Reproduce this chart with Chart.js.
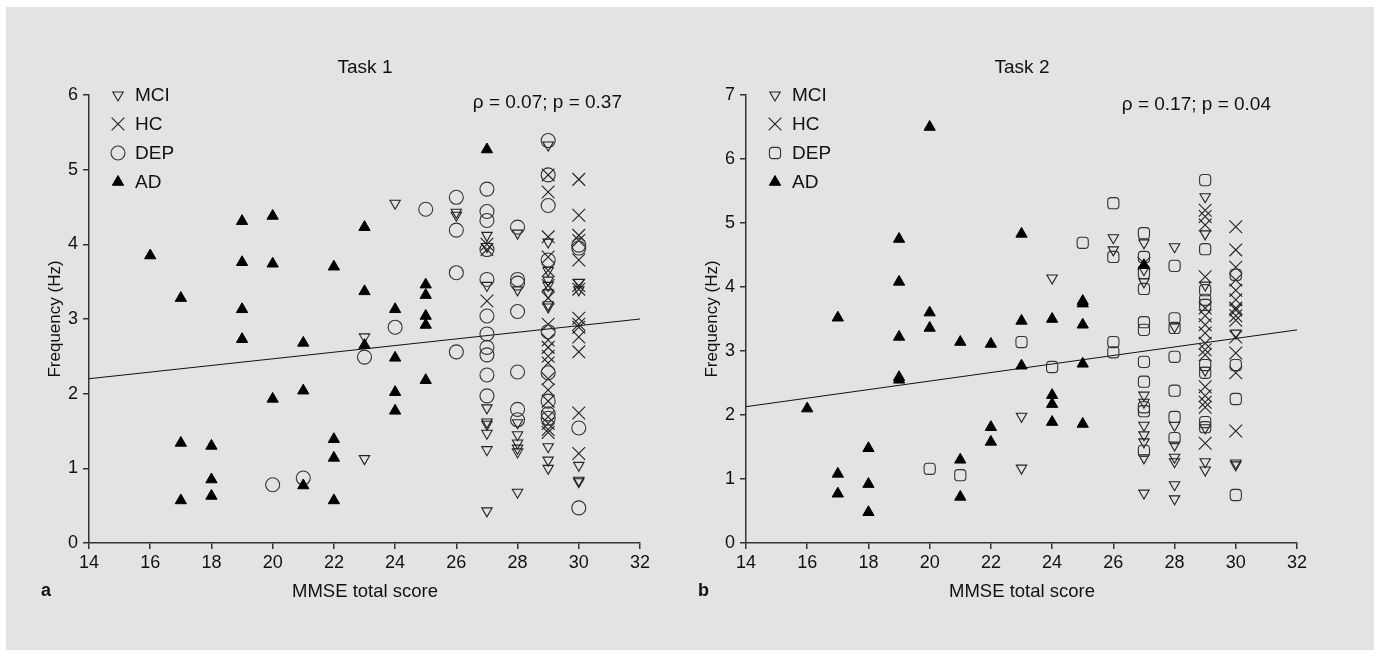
<!DOCTYPE html>
<html>
<head>
<meta charset="utf-8">
<script src="https://cdn.jsdelivr.net/npm/chart.js@4.4.1/dist/chart.umd.min.js"></script>
<style>
  body { margin: 0; background: #fff; }
  #bg { position: absolute; left: 6px; top: 7px; width: 1368px; height: 643px; background: #e3e3e3; }
  canvas { position: absolute; top: 0; }
  #panelA { left: 0; }
  #panelB { left: 657px; }
</style>
</head>
<body>
<div id="bg"></div>
<canvas id="panelA" width="687" height="650"></canvas>
<canvas id="panelB" width="687" height="650"></canvas>
<script>
// Task 1 ([MMSE score, frequency Hz])
const t1MCI = [[23,2.76],[23,1.13],[24,4.55],[26,4.43],[26,4.39],[27,4.12],[27,3.97],[27,3.45],[27,1.81],[27,1.62],[27,1.59],[27,1.47],[27,1.25],[27,0.43],
  [28,4.15],[28,3.39],[28,1.61],[28,1.45],[28,1.34],[28,1.27],[28,1.22],[28,0.68],
  [29,5.33],[29,4.03],[29,3.65],[29,3.52],[29,3.45],[29,3.35],[29,3.19],[29,3.16],[29,1.29],[29,1.11],[29,1.00],
  [30,3.49],[30,3.39],[30,1.04],[30,0.84],[30,0.82]];
const t1HC = [[27,4.00],[27,3.93],[27,3.24],
  [29,4.93],[29,4.70],[29,4.10],[29,3.83],[29,3.65],[29,3.45],[29,3.28],[29,2.93],[29,2.72],[29,2.62],[29,2.50],[29,2.41],[29,2.20],[29,2.05],[29,1.90],[29,1.69],[29,1.60],[29,1.52],[29,1.48],
  [30,4.87],[30,4.39],[30,4.12],[30,4.05],[30,3.79],[30,3.45],[30,3.40],[30,3.01],[30,2.93],[30,2.89],[30,2.76],[30,2.56],[30,1.74],[30,1.20]];
const t1DEP = [[20,0.78],[21,0.87],[23,2.49],[24,2.89],[25,4.47],[26,4.63],[26,4.19],[26,3.62],[26,2.56],
  [27,4.74],[27,4.44],[27,4.32],[27,3.93],[27,3.53],[27,3.04],[27,2.80],[27,2.62],[27,2.52],[27,2.25],[27,1.97],
  [28,4.23],[28,3.53],[28,3.48],[28,3.10],[28,2.29],[28,1.79],[28,1.65],
  [29,5.39],[29,4.93],[29,4.52],[29,3.79],[29,2.83],[29,2.28],[29,1.90],[29,1.73],[29,1.67],
  [30,3.99],[30,3.95],[30,1.54],[30,0.47]];
const t1AD = [[16,3.85],[17,3.28],[17,1.34],[17,0.57],[18,1.30],[18,0.85],[18,0.63],[19,4.31],[19,3.76],[19,3.13],[19,2.73],
  [20,4.38],[20,3.74],[20,1.93],[21,2.68],[21,2.04],[21,0.77],[22,3.70],[22,1.39],[22,1.14],[22,0.57],
  [23,4.23],[23,3.37],[23,2.65],[24,3.13],[24,2.48],[24,2.02],[24,1.77],[25,3.46],[25,3.32],[25,3.04],[25,2.92],[25,2.18],[27,5.27]];
const t1Fit = [[14,2.2],[32,3.0]];

// Task 2
const t2MCI = [[23,1.98],[23,1.17],[24,4.14],[26,4.77],[26,4.58],
  [27,4.69],[27,4.27],[27,4.08],[27,2.31],[27,2.20],[27,1.84],[27,1.69],[27,1.58],[27,1.33],[27,0.78],
  [28,4.63],[28,3.38],[28,1.84],[28,1.53],[28,1.34],[28,1.27],[28,0.91],[28,0.69],
  [29,5.41],[29,4.83],[29,4.03],[29,2.70],[29,1.80],[29,1.27],[29,1.14],
  [30,3.28],[30,1.25],[30,1.22]];
const t2HC = [[27,4.37],
  [29,5.20],[29,5.10],[29,4.97],[29,4.16],[29,3.67],[29,3.55],[29,3.41],[29,3.28],[29,3.12],[29,3.02],[29,2.94],[29,2.44],[29,2.30],[29,2.20],[29,2.12],[29,1.56],
  [30,4.94],[30,4.58],[30,4.31],[30,4.11],[30,3.95],[30,3.80],[30,3.67],[30,3.64],[30,3.55],[30,3.48],[30,3.22],[30,2.97],[30,2.66],[30,1.75]];
const t2DEP = [[20,1.16],[21,1.06],[23,3.14],[24,2.75],[25,4.69],[26,5.31],[26,4.47],[26,3.14],[26,2.98],
  [27,4.84],[27,4.47],[27,4.22],[27,3.97],[27,3.45],[27,3.33],[27,2.83],[27,2.52],[27,2.12],[27,2.06],[27,1.44],
  [28,4.33],[28,3.51],[28,3.36],[28,2.91],[28,2.38],[28,1.97],[28,1.64],
  [29,5.67],[29,4.59],[29,3.95],[29,3.80],[29,3.72],[29,2.78],[29,2.66],[29,1.89],[29,1.81],
  [30,4.19],[30,2.78],[30,2.25],[30,0.75]];
const t2AD = [[16,2.10],[17,3.52],[17,1.08],[17,0.77],[18,1.48],[18,0.92],[18,0.48],[19,4.75],[19,4.08],[19,3.22],[19,2.59],[19,2.55],
  [20,6.50],[20,3.60],[20,3.36],[21,3.14],[21,1.30],[21,0.72],[22,3.11],[22,1.81],[22,1.58],
  [23,4.83],[23,3.47],[23,2.77],[24,3.50],[24,2.31],[24,2.17],[24,1.89],[25,3.78],[25,3.74],[25,3.41],[25,2.80],[25,1.86],[27,4.34]];
const t2Fit = [[14,2.13],[32,3.33]];

const groupNames = ['MCI', 'HC', 'DEP', 'AD'];
const xTicks = [14, 16, 18, 20, 22, 24, 26, 28, 30, 32];

const FONT = "'Liberation Sans', Arial, sans-serif";
const INK = '#111';

const pts = arr => arr.map(p => ({ x: p[0], y: p[1] }));

function styles(depStyle) {
  return [
    { pointStyle: 'triangle', rotation: 180, radius: 6, backgroundColor: 'rgba(0,0,0,0)', borderColor: '#222', borderWidth: 1.1 },
    { pointStyle: 'crossRot', rotation: 0, radius: 9, backgroundColor: 'rgba(0,0,0,0)', borderColor: '#222', borderWidth: 1.1 },
    depStyle,
    { pointStyle: 'triangle', rotation: 0, radius: 6.5, backgroundColor: '#000', borderColor: '#000', borderWidth: 1 }
  ];
}

const extras = {
  id: 'extras',
  afterDraw(chart, args, o) {
    const ctx = chart.ctx;
    ctx.save();
    ctx.fillStyle = INK;
    ctx.textBaseline = 'middle';
    // title
    ctx.font = '19px ' + FONT;
    ctx.textAlign = 'center';
    ctx.fillText(o.title, 365, 68);
    // x axis title
    ctx.font = '18.5px ' + FONT;
    ctx.fillText('MMSE total score', 365, 592);
    // y axis title
    ctx.save();
    ctx.translate(55, 319);
    ctx.rotate(-Math.PI / 2);
    ctx.font = '17px ' + FONT;
    ctx.fillText('Frequency (Hz)', 0, 0);
    ctx.restore();
    // panel letter
    ctx.font = 'bold 18px ' + FONT;
    ctx.textAlign = 'left';
    ctx.fillText(o.letter, 41, 591);
    // stats
    ctx.font = '19px ' + FONT;
    ctx.textAlign = 'right';
    ctx.fillText(o.stats, o.statsX, o.statsY);
    // legend
    ctx.textAlign = 'left';
    ctx.font = '19px ' + FONT;
    o.markers.forEach((m, i) => {
      const y = 95 + i * 29;
      ctx.fillStyle = m.backgroundColor;
      ctx.strokeStyle = m.borderColor;
      ctx.lineWidth = m.borderWidth;
      Chart.helpers.drawPoint(ctx, m, 118, y);
      ctx.fillStyle = INK;
      ctx.fillText(groupNames[i], 135, y + 1);
    });
    ctx.restore();
  }
};

function makePanel(id, sets, fit, yMax, markers, opts) {
  const datasets = [{
    type: 'line', data: pts(fit), borderColor: INK, borderWidth: 1,
    pointRadius: 0, fill: false, order: 5
  }];
  sets.forEach((s, i) => {
    const m = markers[i];
    datasets.push({
      label: groupNames[i], data: pts(s),
      pointStyle: m.pointStyle, rotation: m.rotation, pointRadius: m.radius,
      backgroundColor: m.backgroundColor, borderColor: m.borderColor, borderWidth: m.borderWidth,
      order: 4 - i
    });
  });
  new Chart(document.getElementById(id), {
    type: 'scatter',
    data: { datasets },
    options: {
      responsive: false,
      animation: false,
      clip: false,
      layout: { padding: { left: 29, top: 95, right: 47, bottom: 57 } },
      plugins: {
        legend: { display: false },
        tooltip: { enabled: false },
        extras: Object.assign({ markers }, opts)
      },
      scales: {
        x: {
          type: 'linear', min: 14, max: 32,
          afterBuildTicks: s => { s.ticks = xTicks.map(v => ({ value: v })); },
          afterFit: s => { s.height = 50; },
          border: { display: true, color: '#333', width: 1.5 },
          grid: { drawOnChartArea: false, drawTicks: true, tickLength: 6, color: '#333', lineWidth: 1.5 },
          ticks: { color: INK, font: { family: FONT, size: 18 }, padding: 3, maxRotation: 0 }
        },
        y: {
          type: 'linear', min: 0, max: yMax,
          ticks: { stepSize: 1, color: INK, font: { family: FONT, size: 18 }, padding: 5 },
          afterFit: s => { s.width = 60; },
          border: { display: true, color: '#333', width: 1.5 },
          grid: { drawOnChartArea: false, drawTicks: true, tickLength: 6, color: '#333', lineWidth: 1.5 }
        }
      }
    },
    plugins: [extras]
  });
}

makePanel('panelA', [t1MCI, t1HC, t1DEP, t1AD], t1Fit, 6,
  styles({ pointStyle: 'circle', rotation: 0, radius: 7, backgroundColor: 'rgba(0,0,0,0)', borderColor: '#333', borderWidth: 1.1 }),
  { title: 'Task 1', letter: 'a', stats: 'ρ = 0.07; p = 0.37', statsX: 622, statsY: 103 });

makePanel('panelB', [t2MCI, t2HC, t2DEP, t2AD], t2Fit, 7,
  styles({ pointStyle: 'rectRounded', rotation: 0, radius: 6.5, backgroundColor: 'rgba(0,0,0,0)', borderColor: '#333', borderWidth: 1.1 }),
  { title: 'Task 2', letter: 'b', stats: 'ρ = 0.17; p = 0.04', statsX: 614, statsY: 105 });
</script>
</body>
</html>
